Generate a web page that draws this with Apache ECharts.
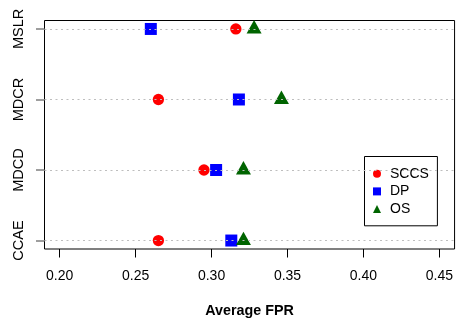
<!DOCTYPE html>
<html>
<head>
<meta charset="utf-8">
<script src="https://cdn.jsdelivr.net/npm/echarts@6/dist/echarts.min.js"></script>
<style>html,body{margin:0;padding:0;background:#fff}#c{width:456px;height:323px}</style>
</head>
<body>
<div id="c"></div>
<script>
// Data (category positions 1..4 from bottom to top)
const categories = ['CCAE', 'MDCD', 'MDCR', 'MSLR'];
const sccs = [0.265, 0.295, 0.265, 0.316];
const dp   = [0.313, 0.303, 0.318, 0.260];
const os   = [0.321, 0.321, 0.346, 0.328];
const xTicks = [0.20, 0.25, 0.30, 0.35, 0.40, 0.45];
const catPos = categories.map((c, i) => i + 1);

const font = '"Liberation Sans", Arial, Helvetica, sans-serif';
const toPts = arr => arr.map((v, i) => [v, catPos[i]]);

const chart = echarts.init(document.getElementById('c'), null, {renderer: 'canvas'});
chart.setOption({
  animation: false,
  backgroundColor: '#fff',
  grid: {
    left: 44.5, top: 20.5, width: 411, height: 229,
    show: true, borderColor: '#000', borderWidth: 1, backgroundColor: 'transparent'
  },
  xAxis: {
    type: 'value', min: 0.19, max: 0.46,
    axisLine: {show: false},
    splitLine: {show: false},
    axisTick: {show: true, customValues: xTicks, length: 8.5, lineStyle: {color: '#000', width: 1}},
    axisLabel: {customValues: xTicks, formatter: v => v.toFixed(2), margin: 20,
      color: '#000', fontSize: 14, fontFamily: font},
    name: 'Average FPR', nameLocation: 'middle', nameGap: 55,
    nameTextStyle: {color: '#000', fontSize: 14.3, fontWeight: 'bold', fontFamily: font}
  },
  yAxis: {
    type: 'value', min: 0.88, max: 4.12,
    axisLine: {show: false},
    splitLine: {show: false},
    axisTick: {show: true, customValues: catPos, length: 8.5, lineStyle: {color: '#7f7f7f', width: 1.5}},
    axisLabel: {customValues: catPos, formatter: v => categories[Math.round(v) - 1] || '',
      rotate: 90, margin: 18, color: '#000', fontSize: 14.5, fontFamily: font}
  },
  legend: {
    orient: 'vertical', left: 364.5, top: 156.5,
    backgroundColor: '#fff', borderColor: '#000', borderWidth: 1,
    padding: [8.5, 8.5, 8, 8.5],
    itemWidth: 8, itemHeight: 8, itemGap: 0,
    textStyle: {color: '#000', fontSize: 14, fontFamily: font, lineHeight: 17.6, padding: [0, 0, 0, 4]},
    data: ['SCCS', 'DP', 'OS']
  },
  series: [
    {
      type: 'scatter', name: 'grid', data: [], silent: true, z: 1,
      markLine: {
        silent: true, symbol: 'none', animation: false,
        label: {show: false},
        lineStyle: {color: '#BEBEBE', width: 1, type: [2, 3.5]},
        data: catPos.map(p => ({yAxis: p}))
      }
    },
    {type: 'scatter', name: 'SCCS', data: toPts(sccs), symbol: 'circle', symbolSize: 11.3,
      itemStyle: {color: '#FF0000', opacity: 1}, z: 3},
    {type: 'scatter', name: 'DP', data: toPts(dp), symbol: 'rect', symbolSize: 12,
      itemStyle: {color: '#0000FF', opacity: 1}, z: 3},
    {type: 'scatter', name: 'OS', data: toPts(os), symbol: 'triangle', symbolSize: [15, 13.4],
      symbolOffset: [0, -2.2], itemStyle: {color: '#006400', opacity: 1}, z: 3}
  ]
});
</script>
</body>
</html>
